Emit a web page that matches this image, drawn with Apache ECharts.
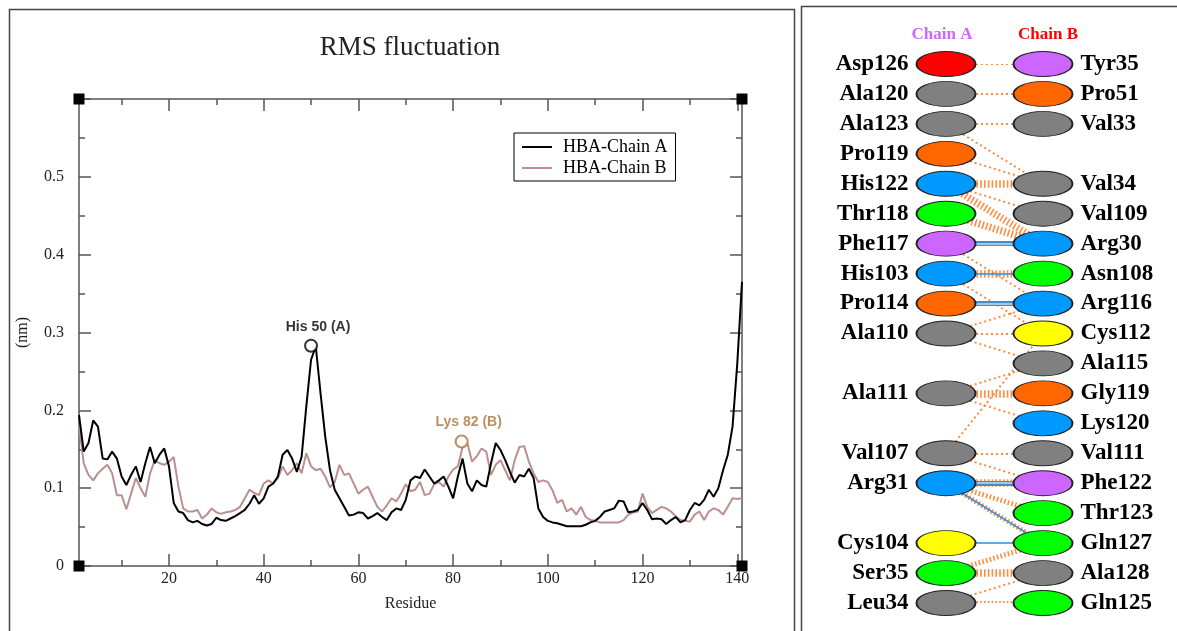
<!DOCTYPE html>
<html><head><meta charset="utf-8">
<script src="https://cdn.jsdelivr.net/npm/echarts@6/dist/echarts.min.js"></script>
<style>html,body{margin:0;padding:0;background:#fff}#c{width:1177px;height:631px}</style>
</head><body><div id="c"></div>
<script>
// ---------- RMSF data (nm) per residue 1..141 ----------
const chainA = [0.194,0.147,0.158,0.187,0.179,0.138,0.137,0.147,0.138,0.115,
0.104,0.117,0.128,0.108,0.132,0.153,0.132,0.143,0.151,0.128,
0.081,0.070,0.068,0.059,0.056,0.058,0.054,0.052,0.054,0.062,
0.059,0.058,0.061,0.064,0.068,0.072,0.080,0.091,0.080,0.087,
0.102,0.106,0.115,0.143,0.149,0.138,0.121,0.140,0.205,0.265,
0.282,0.222,0.166,0.123,0.098,0.087,0.076,0.065,0.066,0.069,
0.068,0.061,0.064,0.068,0.063,0.059,0.069,0.074,0.072,0.085,
0.110,0.115,0.113,0.124,0.115,0.106,0.110,0.115,0.102,0.087,
0.115,0.138,0.106,0.096,0.110,0.104,0.102,0.132,0.158,0.149,
0.136,0.121,0.107,0.117,0.115,0.125,0.113,0.074,0.063,0.058,
0.056,0.055,0.053,0.051,0.051,0.051,0.051,0.053,0.056,0.058,
0.063,0.070,0.072,0.074,0.084,0.083,0.069,0.070,0.072,0.081,
0.072,0.060,0.061,0.060,0.054,0.059,0.063,0.056,0.059,0.072,
0.081,0.078,0.085,0.098,0.089,0.100,0.123,0.143,0.179,0.260,
0.365];
const chainB = [0.181,0.132,0.117,0.110,0.119,0.125,0.130,0.119,0.091,0.091,
0.073,0.093,0.113,0.100,0.089,0.119,0.136,0.132,0.130,0.134,
0.140,0.102,0.074,0.070,0.070,0.072,0.061,0.066,0.074,0.069,
0.067,0.069,0.070,0.072,0.076,0.087,0.098,0.094,0.091,0.106,
0.110,0.106,0.113,0.128,0.117,0.123,0.132,0.119,0.145,0.128,
0.123,0.125,0.115,0.101,0.108,0.130,0.117,0.119,0.106,0.093,
0.098,0.102,0.089,0.076,0.070,0.078,0.087,0.083,0.093,0.105,
0.096,0.098,0.108,0.091,0.093,0.105,0.108,0.102,0.115,0.124,
0.128,0.153,0.158,0.134,0.141,0.151,0.147,0.117,0.130,0.136,
0.123,0.110,0.136,0.153,0.154,0.134,0.119,0.108,0.110,0.108,
0.097,0.081,0.085,0.070,0.074,0.066,0.076,0.063,0.059,0.058,
0.056,0.056,0.056,0.056,0.056,0.059,0.066,0.069,0.070,0.093,
0.076,0.068,0.072,0.076,0.074,0.070,0.064,0.059,0.058,0.057,
0.066,0.070,0.059,0.070,0.074,0.072,0.066,0.076,0.087,0.086,
0.087];
const seriesNames = ['HBA-Chain A','HBA-Chain B'];
const xMajorTicks = [20,40,60,80,100,120,140];
const xMinorTicks = [10,30,50,70,90,110,130];
const annotations = [
  {residue:50, value:0.283, text:'His 50 (A)'},
  {residue:81.8, value:0.160, text:'Lys 82 (B)'}
];
// ---------- interface diagram ----------
const chainARes = ['Asp126','Ala120','Ala123','Pro119','His122','Thr118','Phe117','His103','Pro114','Ala110',
  null,'Ala111',null,'Val107','Arg31',null,'Cys104','Ser35','Leu34'];
const chainBRes = ['Tyr35','Pro51','Val33',null,'Val34','Val109','Arg30','Asn108','Arg116','Cys112',
  'Ala115','Gly119','Lys120','Val111','Phe122','Thr123','Gln127','Ala128','Gln125'];
// [chain A residue, chain B residue, hydrophobic contacts, hydrogen bonds]
const contacts = [
  ['Asp126','Tyr35',1,0],['Ala120','Pro51',1,0],['Ala123','Val33',1,0],['Ala123','Val34',1,0],
  ['Pro119','Val34',1,0],['His122','Val34',3,0],['His122','Val109',1,0],['His122','Arg30',3,0],
  ['Thr118','Arg30',3,0],['Phe117','Arg30',1,2],['Phe117','Arg116',1,0],['His103','Asn108',3,1],
  ['His103','Cys112',1,0],['Pro114','Arg116',0,2],['Ala110','Arg116',1,0],['Ala110','Cys112',1,0],
  ['Ala110','Ala115',1,0],['Ala111','Ala115',1,0],['Ala111','Gly119',3,0],['Ala111','Lys120',1,0],
  ['Val107','Cys112',1,0],['Val107','Val111',1,0],['Val107','Phe122',1,0],['Arg31','Phe122',3,2],
  ['Arg31','Thr123',2,0],['Arg31','Gln127',2,1],['Cys104','Gln127',0,1],['Ser35','Gln127',2,0],
  ['Ser35','Ala128',3,0],['Leu34','Ala128',1,0],['Leu34','Gln125',2,0]
];

// ---------- styling / layout ----------
const resColor = {Asp:'#ff0000',Ala:'#808080',Pro:'#ff6600',His:'#0099ff',Thr:'#00ff00',Phe:'#cc66ff',
  Tyr:'#cc66ff',Val:'#808080',Arg:'#0099ff',Asn:'#00ff00',Cys:'#ffff00',Gly:'#ff6600',Lys:'#0099ff',
  Gln:'#00ff00',Ser:'#00ff00',Leu:'#808080'};
const G = {left:79, top:99, width:663, height:467};
const serif = '"Liberation Serif","Times New Roman",serif';
const axisCol = '#555';

const chart = echarts.init(document.getElementById('c'), null, {renderer:'canvas'});
const pairsA = chainA.map((v,i)=>[i+1,v]);
const pairsB = chainB.map((v,i)=>[i+1,v]);

function xAx(pos, ticks, len, labels, line){
  return {type:'value', gridIndex:0, min:1, max:141, position:pos,
    axisLine:{show:line, lineStyle:{color:axisCol, width:1.5}},
    axisTick:{show:true, inside:true, length:len, customValues:ticks, lineStyle:{color:axisCol,width:1.5}},
    axisLabel:labels?{show:true, customValues:ticks, fontFamily:serif, fontSize:16, color:'#222', margin:5}:{show:false},
    splitLine:{show:false},
    name: labels?'Residue':'', nameLocation:'middle', nameGap:30,
    nameTextStyle:{fontFamily:serif, fontSize:16, color:'#222'}};
}
function yAx(pos, labels){
  return {type:'value', gridIndex:0, min:0, max:0.6, interval:0.1, position:pos,
    axisLine:{show:true, lineStyle:{color:axisCol, width:1.5}},
    axisTick:{show:true, inside:true, length:12, lineStyle:{color:axisCol,width:1.5}},
    minorTick:{show:true, splitNumber:2, length:6, lineStyle:{color:axisCol,width:1.5}},
    axisLabel:labels?{show:true, fontFamily:serif, fontSize:16, color:'#222', margin:15,
      formatter:v=> (Math.abs(v-0.6)<1e-9)?'':(+v.toFixed(1)).toString()}:{show:false},
    splitLine:{show:false}, minorSplitLine:{show:false},
    name: labels?'(nm)':'', nameLocation:'middle', nameGap:48, nameRotate:90,
    nameTextStyle:{fontFamily:serif, fontSize:16, color:'#222'}};
}

const rowA = {}, rowB = {};
chainARes.forEach((n,i)=>{ if(n) rowA[n]=i; });
chainBRes.forEach((n,i)=>{ if(n) rowB[n]=i; });

const orangeLines = [], blueLines = [];
contacts.forEach(([a,b,h,hb])=>{
  const coords = [[0,rowA[a]],[1,rowB[b]]];
  if (h>0) {
    const w = h===1?2:(h===2?5:7.5);
    orangeLines.push({coords, lineStyle:{color:'#ff7f2a', width:w, type:h===1?[2,3]:[1.6,2.2], opacity:0.9}});
  }
  if (hb===1) blueLines.push({coords, lineStyle:{color:'#2f8fdc', width:1.6, type:'solid', opacity:1}});
  if (hb===2) {
    blueLines.push({coords, lineStyle:{color:'#3f8fd0', width:5, type:'solid', opacity:1}});
    blueLines.push({coords, lineStyle:{color:'#c9dbe8', width:1.6, type:'solid', opacity:1}});
  }
});

function nodes(list, x){
  return list.map((n,i)=> n ? {value:[x,i], name:n, itemStyle:{color:resColor[n.slice(0,3)]}} : null).filter(Boolean);
}
const nodeLabel = {show:true, formatter:'{b}', fontFamily:serif, fontWeight:'bold', fontSize:23, color:'#000', distance:7};

const annColors = ['#000000','#a87440'];

const option = {
  animation:false,
  backgroundColor:'#fff',
  grid:[
    {left:G.left, top:G.top, width:G.width, height:G.height, outerBoundsMode:'none', containLabel:false},
    {left:946, top:64, width:97, height:539, outerBoundsMode:'none', containLabel:false}
  ],
  legend:{data:seriesNames.map(n=>({name:n, icon:'rect'})), left:514, top:133, orient:'vertical', borderColor:'#000', borderWidth:1,
    padding:[5,8,4,8], itemGap:3, itemWidth:30, itemHeight:2,
    textStyle:{fontFamily:serif, fontSize:18, color:'#000', padding:[0,0,0,6]}},
  xAxis:[
    xAx('bottom', xMajorTicks, 12, true, true),
    xAx('bottom', xMinorTicks, 6, false, false),
    xAx('top', xMajorTicks, 12, false, true),
    xAx('top', xMinorTicks, 6, false, false),
    {type:'value', gridIndex:1, min:0, max:1, show:false}
  ],
  yAxis:[
    yAx('left', true),
    yAx('right', false),
    {type:'value', gridIndex:1, min:0, max:18, inverse:true, show:false}
  ],
  series:[
    {name:seriesNames[1], type:'line', xAxisIndex:0, yAxisIndex:0, data:pairsB, symbol:'none',
      lineStyle:{color:'#bc8f8f', width:2}, itemStyle:{color:'#bc8f8f'}, z:2},
    {name:seriesNames[0], type:'line', xAxisIndex:0, yAxisIndex:0, data:pairsA, symbol:'none',
      lineStyle:{color:'#000', width:2}, itemStyle:{color:'#000'}, z:3},
    {type:'scatter', xAxisIndex:0, yAxisIndex:0, symbol:'emptyCircle', symbolSize:12, z:5,
      data:annotations.map((a,i)=>({value:[a.residue,a.value], name:a.text,
        itemStyle:{color:annColors[i], borderColor:annColors[i], borderWidth:2},
        label:{show:true, position:'top', formatter:'{b}', offset:[7,-1], distance:4,
          fontFamily:'"Liberation Sans",Arial,sans-serif', fontWeight:'bold', fontSize:14, color:annColors[i]}}))},
    {type:'lines', coordinateSystem:'cartesian2d', xAxisIndex:4, yAxisIndex:2, polyline:false, z:1, data:orangeLines},
    {type:'lines', coordinateSystem:'cartesian2d', xAxisIndex:4, yAxisIndex:2, polyline:false, z:2, data:blueLines},
    {type:'scatter', xAxisIndex:4, yAxisIndex:2, symbol:'circle', symbolSize:[59,25], z:3,
      itemStyle:{borderColor:'#222', borderWidth:1.3, opacity:1},
      label:Object.assign({position:'left'}, nodeLabel), data:nodes(chainARes,0)},
    {type:'scatter', xAxisIndex:4, yAxisIndex:2, symbol:'circle', symbolSize:[59,25], z:3,
      itemStyle:{borderColor:'#222', borderWidth:1.3, opacity:1},
      label:Object.assign({position:'right'}, nodeLabel), data:nodes(chainBRes,1)}
  ],
  graphic:[
    {type:'rect', shape:{x:9.5,y:9.5,width:785,height:640}, style:{fill:'none', stroke:'#444', lineWidth:1.5}, z:0},
    {type:'rect', shape:{x:801.5,y:6.5,width:400,height:640}, style:{fill:'none', stroke:'#444', lineWidth:1.5}, z:0},
    {type:'text', x:410, y:48, style:{text:'RMS fluctuation', align:'center', verticalAlign:'middle',
      fontFamily:serif, fontSize:27, fill:'#222'}},
    {type:'text', x:942, y:35, style:{text:'Chain A', align:'center', verticalAlign:'middle',
      fontFamily:serif, fontWeight:'bold', fontSize:17, fill:'#cc66ff'}},
    {type:'text', x:1048, y:35, style:{text:'Chain B', align:'center', verticalAlign:'middle',
      fontFamily:serif, fontWeight:'bold', fontSize:17, fill:'#ff0000'}}
  ].concat([[G.left,G.top],[G.left+G.width,G.top],[G.left,G.top+G.height],[G.left+G.width,G.top+G.height]].map(p=>({
    type:'rect', shape:{x:p[0]-5.5, y:p[1]-5.5, width:11, height:11}, style:{fill:'#000'}, z:100})))
};
chart.setOption(option);
</script>
</body></html>
